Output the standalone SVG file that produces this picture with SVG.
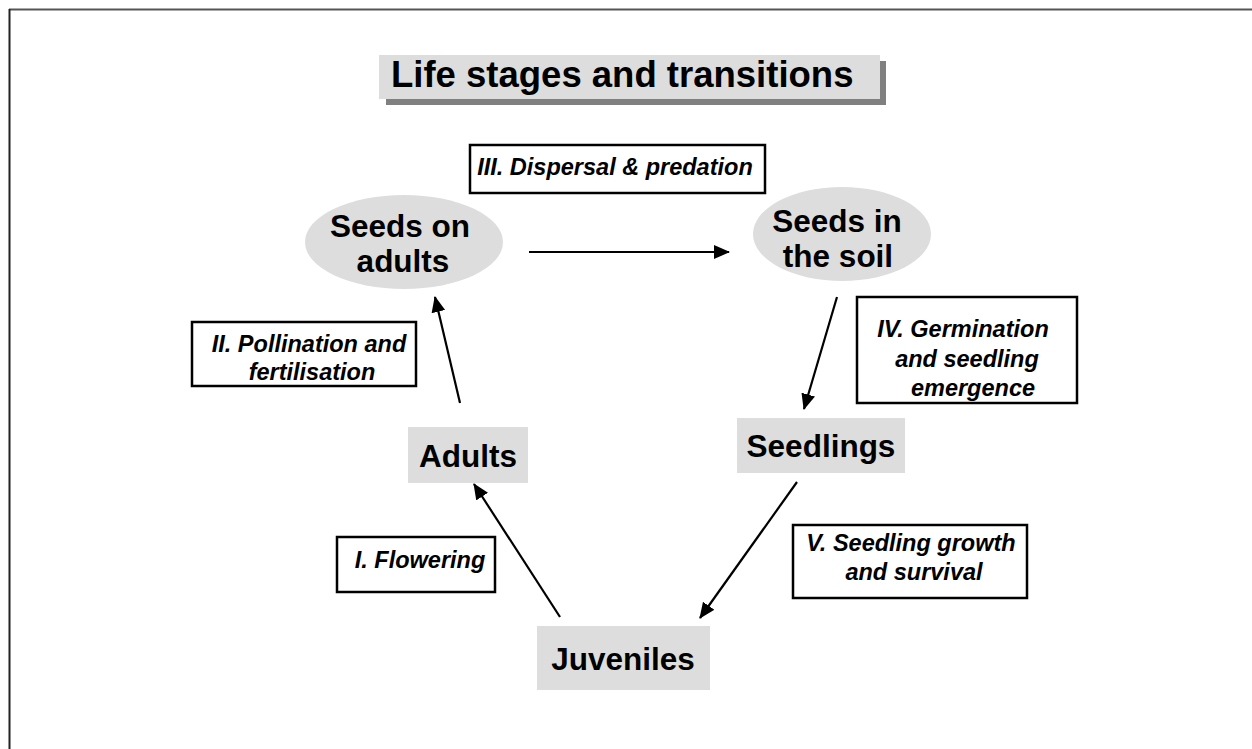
<svg xmlns="http://www.w3.org/2000/svg" width="1252" height="749" viewBox="0 0 1252 749">
<defs>
<marker id="ah" markerWidth="16" markerHeight="14" refX="15" refY="7" orient="auto" markerUnits="userSpaceOnUse">
<path d="M0,0 L16,7 L0,14 Z" fill="#000"/>
</marker>
<style>
.node{fill:#dddddd;}
.nt{font-family:"Liberation Sans",Arial,sans-serif;font-weight:bold;font-size:31.5px;fill:#000;text-anchor:middle;}
.lbox{fill:#fff;stroke:#000;stroke-width:2.5;}
.lt{font-family:"Liberation Sans",Arial,sans-serif;font-weight:bold;font-style:italic;font-size:23.5px;fill:#000;text-anchor:middle;}
.conn{stroke:#000;stroke-width:2.2;fill:none;marker-end:url(#ah);}
</style>
</defs>
<rect x="0" y="0" width="1252" height="749" fill="#fff"/>
<line x1="9" y1="9.5" x2="1252" y2="9.5" stroke="#555" stroke-width="2"/>
<line x1="9.5" y1="9" x2="9.5" y2="749" stroke="#222" stroke-width="2"/>

<g id="title">
<rect x="386" y="61" width="500" height="44" fill="#808080"/>
<rect x="379" y="55" width="501" height="44" fill="#dddddd"/>
<text x="391" y="87" font-family="'Liberation Sans',Arial,sans-serif" font-weight="bold" font-size="36.5">Life stages and transitions</text>
</g>

<g id="seeds-on-adults">
<ellipse class="node" cx="404" cy="242" rx="99" ry="47"/>
<text class="nt" x="400" y="237">Seeds on</text>
<text class="nt" x="403" y="272">adults</text>
</g>

<g id="seeds-in-soil">
<ellipse class="node" cx="842" cy="234" rx="89" ry="47"/>
<text class="nt" x="837" y="232">Seeds in</text>
<text class="nt" x="838" y="267">the soil</text>
</g>

<g id="adults">
<rect class="node" x="408" y="427" width="120" height="56"/>
<text class="nt" x="468" y="467">Adults</text>
</g>

<g id="seedlings">
<rect class="node" x="737" y="418" width="168" height="55"/>
<text class="nt" x="821" y="457">Seedlings</text>
</g>

<g id="juveniles">
<rect class="node" x="537" y="626" width="173" height="64"/>
<text class="nt" x="623" y="670">Juveniles</text>
</g>

<g id="label-III">
<rect class="lbox" x="470" y="145" width="295" height="48"/>
<text class="lt" x="615" y="175">III. Dispersal &amp; predation</text>
</g>

<g id="label-II">
<rect class="lbox" x="192" y="322" width="224" height="64"/>
<text class="lt" x="309" y="352">II. Pollination and</text>
<text class="lt" x="312" y="380">fertilisation</text>
</g>

<g id="label-I">
<rect class="lbox" x="337" y="537" width="158" height="55"/>
<text class="lt" x="420" y="568">I. Flowering</text>
</g>

<g id="label-IV">
<rect class="lbox" x="857" y="297" width="220" height="106"/>
<text class="lt" x="963" y="337">IV. Germination</text>
<text class="lt" x="967" y="367">and seedling</text>
<text class="lt" x="973" y="396">emergence</text>
</g>

<g id="label-V">
<rect class="lbox" x="793" y="525" width="234" height="73"/>
<text class="lt" x="911" y="551">V. Seedling growth</text>
<text class="lt" x="914" y="580">and survival</text>
</g>

<g id="connectors">
<line class="conn" x1="529" y1="252" x2="729" y2="252"/>
<line class="conn" x1="460" y1="403" x2="435" y2="297"/>
<line class="conn" x1="837" y1="297" x2="804" y2="409"/>
<line class="conn" x1="797" y1="482" x2="700" y2="618"/>
<line class="conn" x1="560" y1="617" x2="474" y2="484"/>
</g>
</svg>
